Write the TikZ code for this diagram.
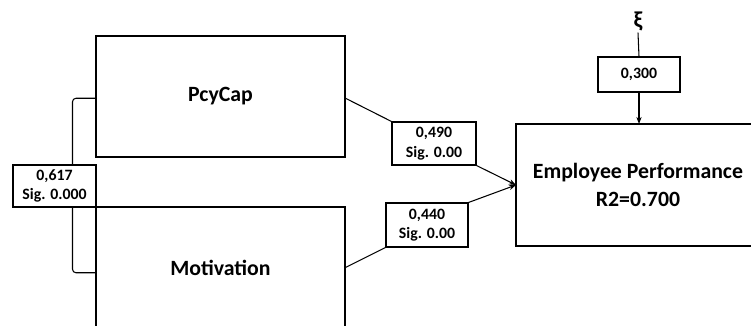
\documentclass[tikz,border=0pt]{standalone}
\usepackage{fontspec}
\setmainfont{Carlito}
\usetikzlibrary{arrows.meta}
\tikzset{
  varbox/.style={draw, fill=white, line width=0.6pt, minimum width=4.98cm, minimum height=2.42cm, align=center, font=\fontsize{12.4}{15}\selectfont\bfseries},
  coefbox/.style={draw, fill=white, line width=0.6pt, inner sep=0pt, align=center, font=\fontsize{9}{11}\selectfont\bfseries},
  path/.style={line width=0.6pt},
  effect/.style={line width=0.6pt, -{Stealth[length=4pt,width=3pt]}}
}
\begin{document}
\begin{tikzpicture}[x=0.02cm,y=-0.02cm]
				\useasboundingbox (0,0) rectangle (751,325);
				\clip (0,0) rectangle (751,325);
				\node [varbox] (pcy) at (220.5,96.5) {PcyCap};
				\node [varbox] (mot) at (220.5,267.5) {Motivation};
				\node [varbox, draw=none, minimum width=5.6cm, anchor=west] (ep) at (516,185) {};
				\draw [path] (ep.north east) -- (ep.north west) -- (ep.south west) -- (ep.south east);
				\node [align=center, font=\fontsize{12.4}{15.5}\selectfont\bfseries] (eptext) at (638,185) {Employee Performance\\R2=0.700};
				\draw [path, rounded corners=2pt] ([yshift=-1pt]pcy.west) -- ++(-23,0) |- ([yshift=-3pt]mot.west);
				\node [coefbox, minimum width=1.66cm, minimum height=0.84cm] (b617) at (54.5,186) {0,617\\Sig. 0.000};
				\node [coefbox, minimum width=1.68cm, minimum height=0.86cm] (b490) at (434,143.5) {0,490\\Sig. 0.00};
				\node [coefbox, minimum width=1.64cm, minimum height=0.88cm] (b440) at (427,225) {0,440\\Sig. 0.00};
				\node [coefbox, minimum width=1.64cm, minimum height=0.70cm] (b300) at (639,74.5) {0,300};
				\node [font=\fontsize{13}{15}\selectfont\bfseries, inner sep=1pt] (xi) at (638,21) {ξ};
				\draw [path] ([yshift=-1pt]pcy.east) -- (b490.north west);
				\draw [effect] (b490.south east) -- (ep.west);
				\draw [path] (mot.east) -- (b440.south west);
				\draw [effect] (b440.north east) -- (ep.west);
				\draw [path] (xi.south) -- (b300.north);
				\draw [effect] (b300.south) -- (ep.north -| b300.south);
			\end{tikzpicture}
\end{document}
